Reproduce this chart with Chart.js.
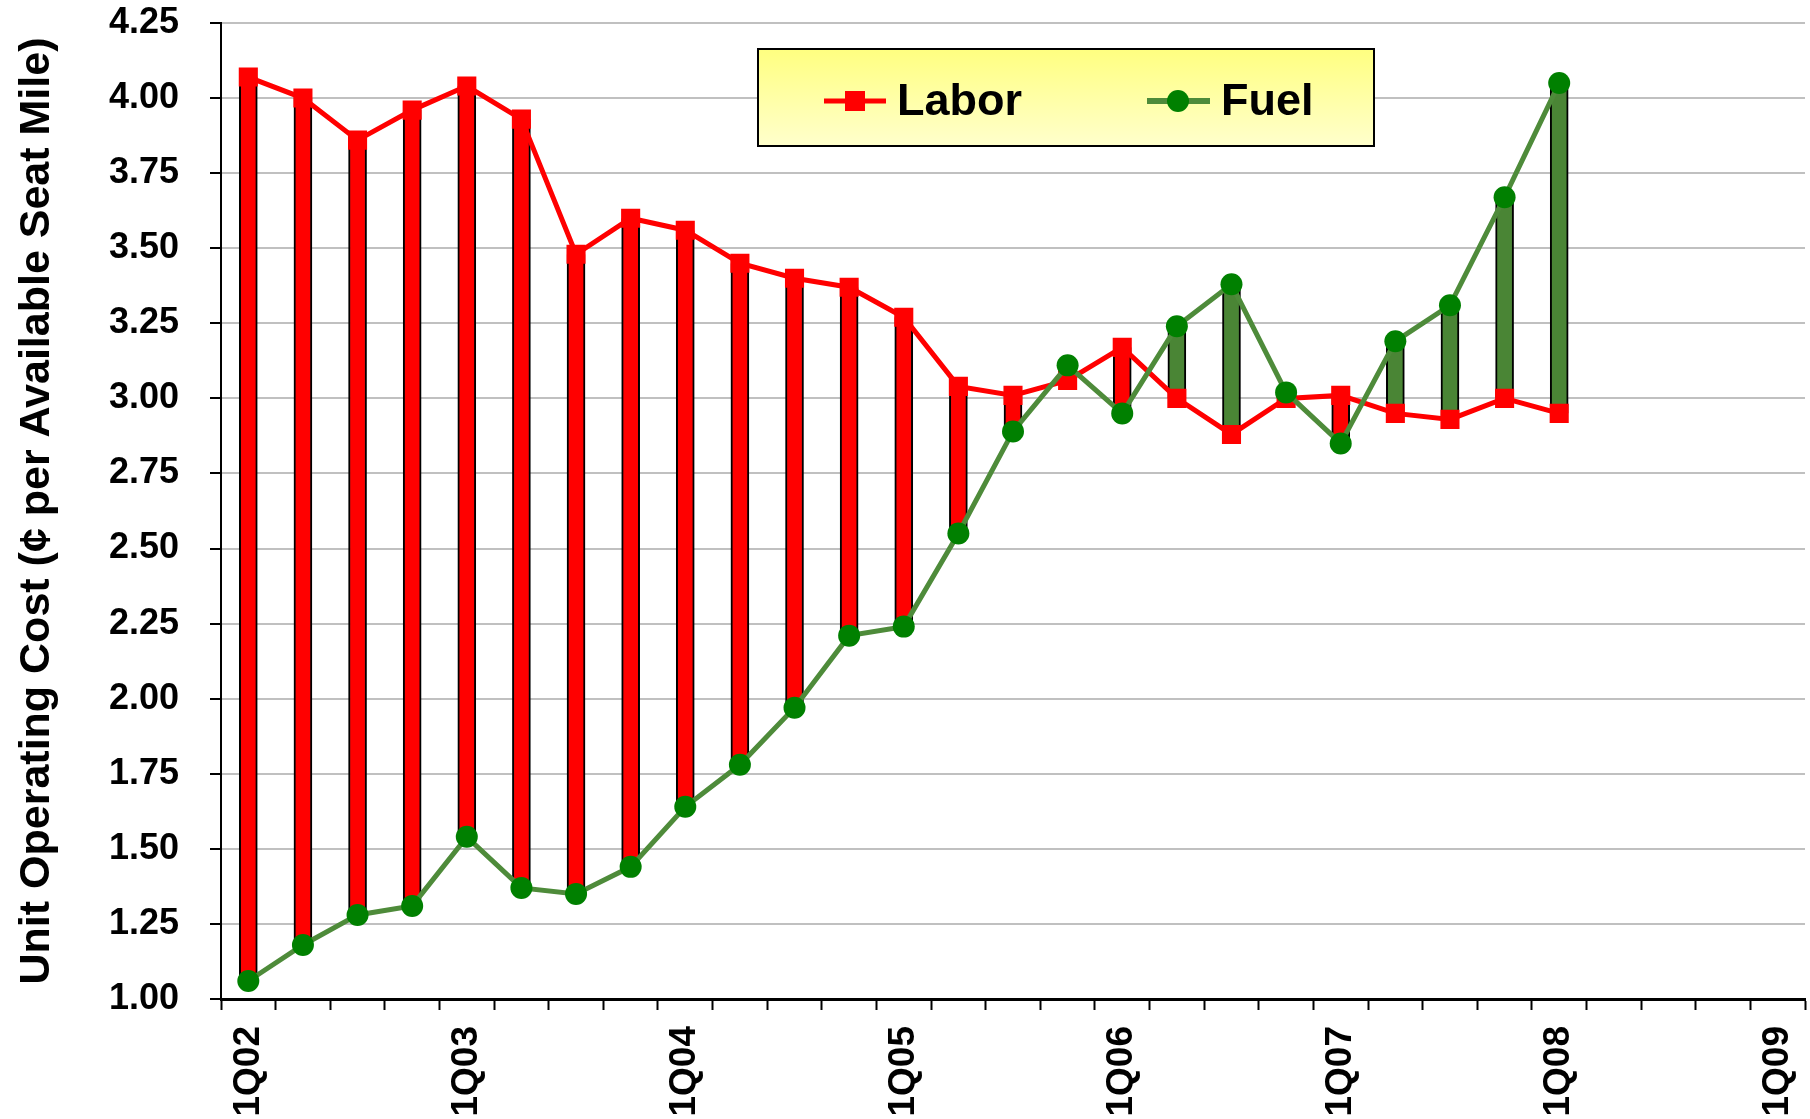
<!DOCTYPE html>
<html>
<head>
<meta charset="utf-8">
<script src="https://cdn.jsdelivr.net/npm/chart.js@4.4.1/dist/chart.umd.min.js"></script>
<style>
  html, body { margin: 0; padding: 0; background: #fff; }
  #wrap { width: 1810px; height: 1119px; }
</style>
</head>
<body>
<div id="wrap"><canvas id="costChart" width="1810" height="1119"></canvas></div>
<script>
var quarters = [
  '1Q02', '2Q02', '3Q02', '4Q02',
  '1Q03', '2Q03', '3Q03', '4Q03',
  '1Q04', '2Q04', '3Q04', '4Q04',
  '1Q05', '2Q05', '3Q05', '4Q05',
  '1Q06', '2Q06', '3Q06', '4Q06',
  '1Q07', '2Q07', '3Q07', '4Q07',
  '1Q08', '2Q08', '3Q08', '4Q08',
  '1Q09'
];
var labor = [4.07, 4.00, 3.86, 3.96, 4.04, 3.93, 3.48, 3.60, 3.56, 3.45, 3.40, 3.37, 3.27,
             3.04, 3.01, 3.06, 3.17, 3.00, 2.88, 3.00, 3.01, 2.95, 2.93, 3.00, 2.95];
var fuel = [1.06, 1.18, 1.28, 1.31, 1.54, 1.37, 1.35, 1.44, 1.64, 1.78, 1.97, 2.21, 2.24,
            2.55, 2.89, 3.11, 2.95, 3.24, 3.38, 3.02, 2.85, 3.19, 3.31, 3.67, 4.05];
var yTicks = [1.00, 1.25, 1.50, 1.75, 2.00, 2.25, 2.50, 2.75, 3.00, 3.25, 3.50, 3.75, 4.00, 4.25];

var RED = '#FF0000';
var BAR_GREEN = '#4A8535';
var LINE_GREEN = '#4E8B3A';
var DOT_GREEN = '#008000';

// floating bars spanning the gap between the two series
var gapBars = labor.map(function (l, i) { return [fuel[i], l]; });
var gapColors = labor.map(function (l, i) { return l >= fuel[i] ? RED : BAR_GREEN; });

var legendBox = {
  id: 'legendBox',
  afterDraw: function (chart) {
    var ctx = chart.ctx;
    var x0 = 758, y0 = 49, x1 = 1374, y1 = 146;
    ctx.save();
    var grad = ctx.createLinearGradient(0, y0, 0, y1);
    grad.addColorStop(0, '#FFFF80');
    grad.addColorStop(1, '#FFFFCC');
    ctx.fillStyle = grad;
    ctx.fillRect(x0, y0, x1 - x0, y1 - y0);
    ctx.lineWidth = 2;
    ctx.strokeStyle = '#000';
    ctx.strokeRect(x0, y0, x1 - x0, y1 - y0);

    var cy = 101;
    // Labor
    ctx.strokeStyle = RED;
    ctx.lineWidth = 5;
    ctx.beginPath(); ctx.moveTo(824, cy); ctx.lineTo(886, cy); ctx.stroke();
    ctx.fillStyle = RED;
    ctx.fillRect(845, cy - 10, 20, 20);
    // Fuel
    ctx.strokeStyle = LINE_GREEN;
    ctx.lineWidth = 6;
    ctx.beginPath(); ctx.moveTo(1147, cy); ctx.lineTo(1210, cy); ctx.stroke();
    ctx.fillStyle = DOT_GREEN;
    ctx.beginPath(); ctx.arc(1178, cy, 11, 0, Math.PI * 2); ctx.fill();

    ctx.fillStyle = '#000';
    ctx.font = 'bold 45px "Liberation Sans", Arial, sans-serif';
    ctx.textBaseline = 'middle';
    ctx.textAlign = 'left';
    ctx.fillText('Labor', 897, cy + 2);
    ctx.fillText('Fuel', 1221, cy + 2);
    ctx.restore();
  }
};

new Chart('costChart', {
  type: 'bar',
  data: {
    labels: quarters,
    datasets: [{
      type: 'line',
      label: 'Fuel',
      data: fuel,
      order: 1,
      borderColor: LINE_GREEN,
      borderWidth: 5,
      tension: 0,
      pointStyle: 'circle',
      pointRadius: 11,
      pointBackgroundColor: DOT_GREEN,
      pointBorderColor: DOT_GREEN,
      pointBorderWidth: 0
    }, {
      type: 'line',
      label: 'Labor',
      data: labor,
      order: 2,
      borderColor: RED,
      borderWidth: 5,
      tension: 0,
      pointStyle: 'rect',
      pointRadius: 13.5,
      pointBackgroundColor: RED,
      pointBorderColor: RED,
      pointBorderWidth: 0
    }, {
      type: 'bar',
      label: 'Gap',
      data: gapBars,
      order: 3,
      backgroundColor: gapColors,
      borderColor: '#000',
      borderWidth: { left: 2, right: 2, top: 0, bottom: 0 },
      borderSkipped: false,
      barThickness: 18
    }]
  },
  options: {
    responsive: false,
    animation: false,
    devicePixelRatio: 1,
    layout: { autoPadding: false, padding: { left: 0, top: 23, right: 5, bottom: 0 } },
    plugins: {
      legend: { display: false },
      tooltip: { enabled: false }
    },
    scales: {
      x: {
        offset: true,
        grid: {
          offset: true,
          drawOnChartArea: false,
          drawTicks: true,
          tickLength: 11,
          tickColor: '#000',
          tickWidth: 2
        },
        border: { color: '#000', width: 3 },
        ticks: {
          autoSkip: false,
          minRotation: 90,
          maxRotation: 90,
          padding: 16,
          color: '#000',
          font: { family: '"Liberation Sans", Arial, sans-serif', size: 37, weight: 'bold' },
          callback: function (val, i) {
            var lab = this.getLabelForValue(val);
            return lab.indexOf('1Q') === 0 ? lab : '';
          }
        },
        afterFit: function (scale) {
          scale.height = 120;
          scale.paddingLeft = 0;
          scale.paddingRight = 0;
        }
      },
      y: {
        min: 1,
        max: 4.25,
        afterBuildTicks: function (scale) {
          scale.ticks = yTicks.map(function (v) { return { value: v }; });
        },
        grid: {
          color: '#C0C0C0',
          lineWidth: 2,
          tickLength: 11,
          tickColor: '#000',
          tickWidth: 2
        },
        border: { color: '#000', width: 2 },
        ticks: {
          padding: 31,
          color: '#000',
          font: { family: '"Liberation Sans", Arial, sans-serif', size: 36, weight: 'bold' },
          callback: function (v) { return v.toFixed(2); }
        },
        title: {
          display: true,
          text: 'Unit Operating Cost (\u00A2 per Available Seat Mile)',
          color: '#000',
          padding: { top: 11, bottom: 0 },
          font: { family: '"Liberation Sans", Arial, sans-serif', size: 43, weight: 'bold' }
        },
        afterFit: function (scale) {
          scale.width = 221;
          scale.paddingTop = 0;
          scale.paddingBottom = 0;
        }
      }
    }
  },
  plugins: [legendBox]
});
</script>
</body>
</html>
